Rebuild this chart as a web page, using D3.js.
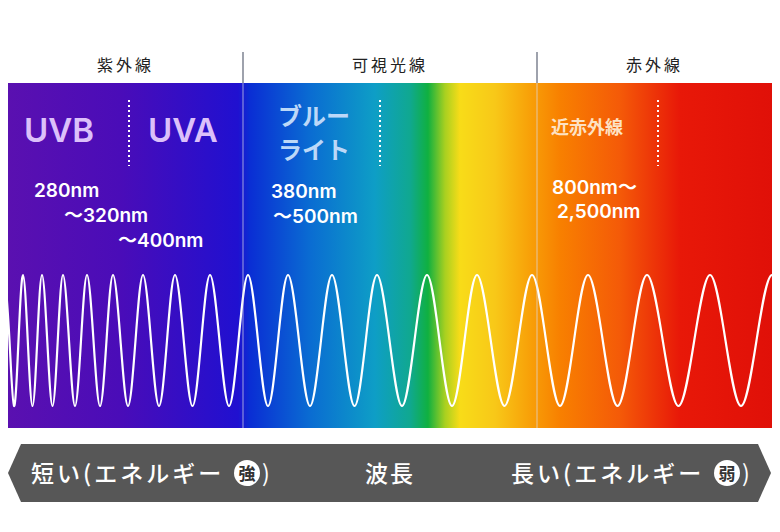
<!DOCTYPE html>
<html><head><meta charset="utf-8">
<script src="https://cdn.jsdelivr.net/npm/d3@7"></script>
<style>body{margin:0;background:#fff}svg{display:block;font-family:"Noto Sans CJK JP","Noto Sans",sans-serif}</style>
</head><body>
<script>
var width = 780, height = 532
// regions and labels
var regions = ['紫外線', '可視光線', '赤外線']
var regionEdges = [8, 243, 537, 772]
// colour stops of the spectrum band (x position, colour)
var stops = [[8, '#5a10b0'], [120, '#4a0cb8'], [238, '#2010d0'], [250, '#0a2ed4'], [310, '#0a6cd2'],
  [375, '#0e9ec6'], [410, '#10a890'], [428, '#10b040'], [445, '#a8d020'], [460, '#f8dc18'],
  [495, '#f8c818'], [530, '#f8a008'], [560, '#f88000'], [620, '#f45a08'], [680, '#e81808'], [772, '#e01008']]
// peak positions of the wave
var peaks = [5, 23, 42, 63, 87, 113, 143, 175, 210, 248, 288, 332, 377, 427, 477, 532, 588, 647, 710, 772, 836]

var svg = d3.select('body').append('svg').attr('width', width).attr('height', height)
var defs = svg.append('defs')
var x = d3.scaleLinear().domain([0, width]).range([0, width])
var bandTop = 83, bandBottom = 428
var grad = defs.append('linearGradient').attr('id', 'spec')
  .attr('gradientUnits', 'userSpaceOnUse').attr('x1', x(8)).attr('x2', x(772)).attr('y1', 0).attr('y2', 0)
grad.selectAll('stop').data(stops).enter().append('stop')
  .attr('offset', function (d) { return (d[0] - 8) / 764 })
  .attr('stop-color', function (d) { return d[1] })
defs.append('clipPath').attr('id', 'band').append('rect')
  .attr('x', x(8)).attr('y', bandTop).attr('width', x(772) - x(8)).attr('height', bandBottom - bandTop)

svg.append('rect').attr('x', x(8)).attr('y', bandTop).attr('width', x(772) - x(8)).attr('height', bandBottom - bandTop)
  .attr('fill', 'url(#spec)')

// wave: peaks, zero crossings and troughs between them
var y = d3.scaleLinear().domain([-1, 1]).range([406, 275])
var pts = []
peaks.forEach(function (p, i) {
  pts.push([p, 1])
  if (i < peaks.length - 1) {
    var q = peaks[i + 1]
    pts.push([p + (q - p) / 4, 0], [(p + q) / 2, -1], [p + 3 * (q - p) / 4, 0])
  }
})
var line = d3.line().x(function (d) { return x(d[0]) }).y(function (d) { return y(d[1]) }).curve(d3.curveNatural)
svg.append('path').attr('clip-path', 'url(#band)').attr('d', line(pts))
  .attr('fill', 'none').attr('stroke', '#fff').attr('stroke-width', 2.2)

// divider lines
svg.selectAll('.div').data(regionEdges.slice(1, 3)).enter().append('line')
  .attr('x1', function (d) { return x(d) }).attr('x2', function (d) { return x(d) })
  .attr('y1', 52).attr('y2', bandTop).attr('stroke', '#6a7080').attr('stroke-width', 1.3)
svg.selectAll('.div2').data(regionEdges.slice(1, 3)).enter().append('line')
  .attr('x1', function (d) { return x(d) }).attr('x2', function (d) { return x(d) })
  .attr('y1', bandTop).attr('y2', bandBottom).attr('stroke', 'rgba(220,220,230,0.7)').attr('stroke-width', 1)
svg.selectAll('.reg').data(regions).enter().append('text')
  .attr('x', function (d, i) { return x((regionEdges[i] + regionEdges[i + 1]) / 2) })
  .attr('y', 71).attr('text-anchor', 'middle').attr('font-size', 16).attr('fill', '#222')
  .attr('letter-spacing', 3).text(function (d) { return d })

// dotted separators
svg.selectAll('.dot').data([129, 380, 658]).enter().append('line')
  .attr('x1', function (d) { return x(d) }).attr('x2', function (d) { return x(d) })
  .attr('y1', 100).attr('y2', 166).attr('stroke', '#fff').attr('stroke-width', 2).attr('stroke-dasharray', '2,3')

// labels
var labels = [
  { t: 'UVB', x: 24, y: 142, s: 33, c: '#dcc0fa', w: 600 },
  { t: 'UVA', x: 148, y: 142, s: 33, c: '#dcc0fa', w: 600 },
  { t: 'ブルー', x: 278, y: 125, s: 24, c: '#bcd8f8', w: 700 },
  { t: 'ライト', x: 278, y: 159, s: 24, c: '#bcd8f8', w: 700 },
  { t: '近赤外線', x: 551, y: 134, s: 18, c: '#fde2c4', w: 700 },
  { t: '280nm', x: 34, y: 197, s: 19, c: '#fff', w: 600 },
  { t: '～320nm', x: 64, y: 222, s: 19, c: '#fff', w: 600 },
  { t: '～400nm', x: 118, y: 247, s: 19, c: '#fff', w: 600 },
  { t: '380nm', x: 271, y: 198, s: 19, c: '#fff', w: 600 },
  { t: '～500nm', x: 273, y: 223, s: 19, c: '#fff', w: 600 },
  { t: '800nm～', x: 552, y: 194, s: 19, c: '#fff', w: 600 },
  { t: '2,500nm', x: 557, y: 218, s: 19, c: '#fff', w: 600 }
]
svg.selectAll('.lab').data(labels).enter().append('text')
  .attr('x', function (d) { return x(d.x) }).attr('y', function (d) { return d.y })
  .attr('font-size', function (d) { return d.s }).attr('font-weight', function (d) { return d.w })
  .attr('fill', function (d) { return d.c }).attr('font-family', function (d) { return /nm|UV/.test(d.t) ? 'Inter, "Noto Sans CJK JP"' : null })
  .text(function (d) { return d.t })

// bottom banner
svg.append('path').attr('d', 'M8,473 L21,444 L758,444 L771,473 L758,502 L21,502 Z').attr('fill', '#575757')
var banner = [
  { t: '短い(エネルギー', x: 31, a: 'start', c: '強', cx: 247, ls: 3 },
  { t: '波長', x: 390, a: 'middle', ls: 2 },
  { t: '長い(エネルギー', x: 511, a: 'start', c: '弱', cx: 727, ls: 3 }
]
banner.forEach(function (b) {
  svg.append('text').attr('x', x(b.x)).attr('y', 482).attr('text-anchor', b.a).attr('letter-spacing', b.ls)
    .attr('font-size', 23).attr('fill', '#fff').attr('font-weight', 500).text(b.t)
  if (b.c) {
    svg.append('circle').attr('cx', x(b.cx)).attr('cy', 473).attr('r', 13).attr('fill', '#fff')
    svg.append('text').attr('x', x(b.cx)).attr('y', 480).attr('text-anchor', 'middle')
      .attr('font-size', 17).attr('font-weight', 700).attr('fill', '#333').text(b.c)
    svg.append('text').attr('x', x(b.cx + 15)).attr('y', 482).attr('font-size', 23).attr('fill', '#fff').text(')')
  }
})
</script>
</body></html>
